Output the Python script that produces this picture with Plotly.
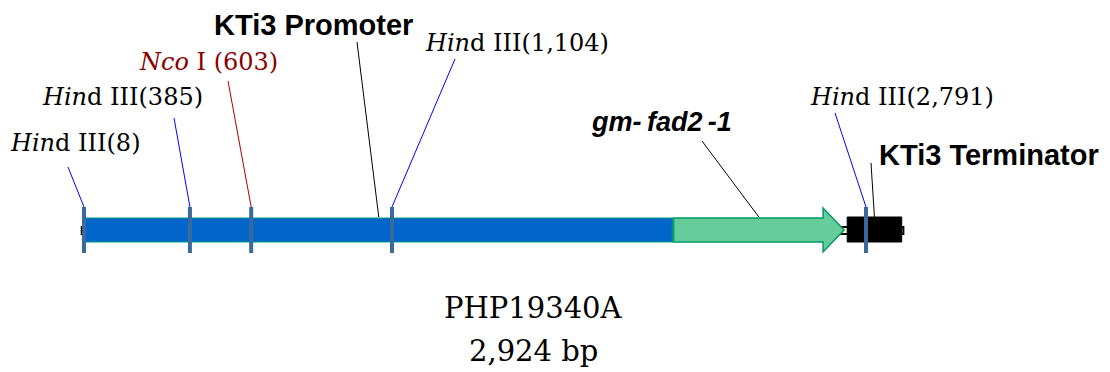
import plotly.graph_objects as go

# ---------------- data ----------------
plasmid_name = "PHP19340A"
plasmid_len = 2924  # bp

site_names = ["Hind III", "Hind III", "Nco I", "Hind III", "Hind III"]
site_pos = [8, 385, 603, 1104, 2791]

feature_names = ["KTi3 Promoter", "gm-fad2-1", "KTi3 Terminator"]
feature_start = [12, 2106, 2724]
feature_end = [2102, 2713, 2918]

# ---------------- layout helpers ----------------
W, H = 1110, 372
PX0, PXS = 81.75, 0.281  # pixel of bp 0, pixels per bp


def bp(px):
    """layout pixel -> x data coordinate"""
    return (px - PX0) / PXS


shapes = []
annotations = []

# backbone
shapes.append(dict(type="rect", xref="x", yref="y", x0=0, x1=plasmid_len, y0=227, y1=234,
                   fillcolor="#FFFFCC", line=dict(color="black", width=2), layer="above"))

# promoter (blue bar)
shapes.append(dict(type="rect", xref="x", yref="y", x0=feature_start[0], x1=feature_end[0],
                   y0=218, y1=242, fillcolor="#0066CC", line=dict(color="#00997A", width=1.2),
                   layer="above"))

# gene arrow
g0, g1 = feature_start[1], feature_end[1]
head = bp(PX0 + 21) - bp(PX0)  # arrow head length
gh = g1 - head
path = (f"M {g0},218 L {gh},218 L {gh},208 L {g1},230 L {gh},252 L {gh},242 L {g0},242 Z")
shapes.append(dict(type="path", xref="x", yref="y", path=path, fillcolor="#66CC99",
                   line=dict(color="#009966", width=1.5), layer="above"))

# terminator (black box)
shapes.append(dict(type="rect", xref="x", yref="y", x0=feature_start[2], x1=feature_end[2],
                   y0=217, y1=242, fillcolor="black", line=dict(color="black", width=1),
                   layer="above"))

# restriction site ticks
for p in site_pos:
    shapes.append(dict(type="line", xref="x", yref="y", x0=p, x1=p, y0=207, y1=253,
                       line=dict(color="#3A6A9C", width=4), layer="above"))

# ---------------- labels ----------------
serif = "DejaVu Serif"
sans = "Liberation Sans"

site_labels = [
    dict(text="<i>Hin</i>d III(8)", x=8, y=143, lx=68, ly=167, color="black", lc="#0000FF"),
    dict(text="<i>Hin</i>d III(385)", x=40, y=97, lx=174, ly=118, color="black", lc="#0000FF"),
    dict(text="<i>Nco</i> I (603)", x=137, y=62, lx=228, ly=81, color="#8B0000", lc="#B00000"),
    dict(text="<i>Hin</i>d III(1,104)", x=423, y=43, lx=455, ly=59, color="black", lc="#0000FF"),
    dict(text="<i>Hin</i>d III(2,791)", x=808, y=97, lx=835, ly=113, color="black", lc="#0000FF"),
]
for lab, p in zip(site_labels, site_pos):
    annotations.append(dict(text=lab["text"], xref="x", yref="y", x=bp(lab["x"]), y=lab["y"],
                            xanchor="left", yanchor="middle", showarrow=False,
                            font=dict(family=serif, size=24, color=lab["color"])))
    shapes.append(dict(type="line", xref="x", yref="y", x0=bp(lab["lx"]), y0=lab["ly"],
                       x1=p, y1=207, line=dict(color=lab["lc"], width=1)))

feat_labels = [
    dict(text="<b>KTi3 Promoter</b>", x=212, y=25, lx=357, ly=42, size=29),
    dict(text="<b><i>gm-\u2009fad2\u2009-1</i></b>", x=589, y=122, lx=702, ly=141, size=27),
    dict(text="<b>KTi3 Terminator</b>", x=877, y=155, lx=871, ly=163, size=29),
]
for lab, s, e in zip(feat_labels, feature_start, feature_end):
    annotations.append(dict(text=lab["text"], xref="x", yref="y", x=bp(lab["x"]), y=lab["y"],
                            xanchor="left", yanchor="middle", showarrow=False,
                            font=dict(family=sans, size=lab["size"], color="black")))
    shapes.append(dict(type="line", xref="x", yref="y", x0=bp(lab["lx"]), y0=lab["ly"],
                       x1=(s + e) / 2, y1=217, line=dict(color="black", width=1)))

# plasmid name and size
annotations.append(dict(text=plasmid_name, xref="x", yref="y", x=bp(533), y=308,
                        xanchor="center", yanchor="middle", showarrow=False,
                        font=dict(family=serif, size=29, color="black")))
annotations.append(dict(text=f"{plasmid_len:,} bp", xref="x", yref="y", x=bp(533), y=351,
                        xanchor="center", yanchor="middle", showarrow=False,
                        font=dict(family=serif, size=29, color="black")))

fig = go.Figure()
fig.add_trace(go.Scatter(x=[0, plasmid_len], y=[230, 230], mode="lines",
                         line=dict(color="black", width=1), hoverinfo="skip", showlegend=False))
fig.update_layout(
    width=W, height=H, margin=dict(l=0, r=0, t=0, b=0),
    paper_bgcolor="white", plot_bgcolor="white",
    xaxis=dict(range=[bp(0), bp(W)], visible=False, fixedrange=True),
    yaxis=dict(range=[H, 0], visible=False, fixedrange=True),
    shapes=shapes, annotations=annotations, showlegend=False,
)
fig.write_html("out.html", config={"displayModeBar": False},
               post_script="document.body.style.margin='0';document.body.style.overflow='hidden';")
